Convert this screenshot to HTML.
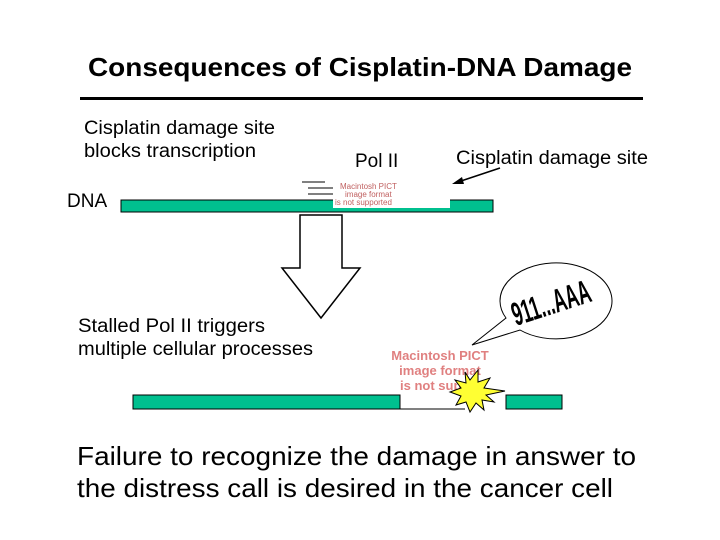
<!DOCTYPE html>
<html><head><style>
body{margin:0;background:#fff;width:720px;height:540px;overflow:hidden}
svg{display:block}
text{font-family:"Liberation Sans",Arial,sans-serif}
</style></head><body>
<svg width="720" height="540" viewBox="0 0 720 540">
<text x="360" y="76" text-anchor="middle" font-size="26" font-weight="bold" textLength="544" lengthAdjust="spacingAndGlyphs">Consequences of Cisplatin-DNA Damage</text>
<rect x="80" y="97" width="563" height="3" fill="#000"/>
<text x="84" y="134" font-size="19" textLength="191" lengthAdjust="spacingAndGlyphs">Cisplatin damage site</text>
<text x="84" y="157" font-size="19" textLength="172" lengthAdjust="spacingAndGlyphs">blocks transcription</text>
<text x="355" y="167" font-size="19">Pol II</text>
<text x="456" y="164" font-size="19" textLength="192" lengthAdjust="spacingAndGlyphs">Cisplatin damage site</text>
<text x="67" y="207" font-size="19">DNA</text>
<rect x="121" y="200" width="372" height="12" fill="#00c08f" stroke="#000" stroke-width="1"/>
<rect x="333" y="179" width="117" height="29" fill="#fff"/>
<g stroke="#000" stroke-width="1"><line x1="302" y1="182" x2="325" y2="182"/><line x1="308" y1="188" x2="333" y2="188"/><line x1="308" y1="194" x2="333" y2="194"/></g>
<text x="340" y="189" font-size="8" fill="#c06060">Macintosh PICT</text>
<text x="345" y="197" font-size="8" fill="#c06060">image format</text>
<text x="335" y="205" font-size="8" fill="#c06060">is not supported</text>
<line x1="500" y1="168" x2="455" y2="183" stroke="#000" stroke-width="1.5"/>
<polygon points="452,184 462,177 464,184" fill="#000"/>
<polygon points="300,215 342,215 342,268 360,268 321,318 282,268 300,268" fill="#fff" stroke="#000" stroke-width="1.5"/>
<text x="78" y="332" font-size="19" textLength="187" lengthAdjust="spacingAndGlyphs">Stalled Pol II triggers</text>
<text x="78" y="355" font-size="19" textLength="235" lengthAdjust="spacingAndGlyphs">multiple cellular processes</text>
<path d="M472,345 L506,318 A56,38 0 1,1 520,330 Z" fill="#fff" stroke="#000" stroke-width="1"/>
<text x="0" y="0" font-size="22" font-weight="bold" transform="translate(516,326) rotate(-18) scale(0.75,1.5)" textLength="108" lengthAdjust="spacingAndGlyphs">911...AAA</text>
<text x="440" y="360" font-size="13" font-weight="bold" fill="#e08080" text-anchor="middle">Macintosh PICT</text>
<text x="440" y="375" font-size="13" font-weight="bold" fill="#e08080" text-anchor="middle">image format</text>
<text x="400" y="390" font-size="13" font-weight="bold" fill="#e08080">is not suppo</text>
<rect x="133" y="395" width="267" height="14" fill="#00c08f" stroke="#000" stroke-width="1"/>
<rect x="506" y="395" width="56" height="14" fill="#00c08f" stroke="#000" stroke-width="1"/>
<line x1="400" y1="409" x2="465" y2="409" stroke="#000"/>
<polygon points="465,372 470,380 478,370 478,382 490,378 484,388 505,391 486,395 494,402 482,400 484,410 476,403 470,412 466,402 456,405 461,396 450,392 461,388 455,380 466,383" fill="#ffff33" stroke="#000" stroke-width="1"/>
<text x="77" y="465" font-size="26" textLength="559" lengthAdjust="spacingAndGlyphs">Failure to recognize the damage in answer to</text>
<text x="77" y="497" font-size="26" textLength="536" lengthAdjust="spacingAndGlyphs">the distress call is desired in the cancer cell</text>
</svg>
</body></html>
